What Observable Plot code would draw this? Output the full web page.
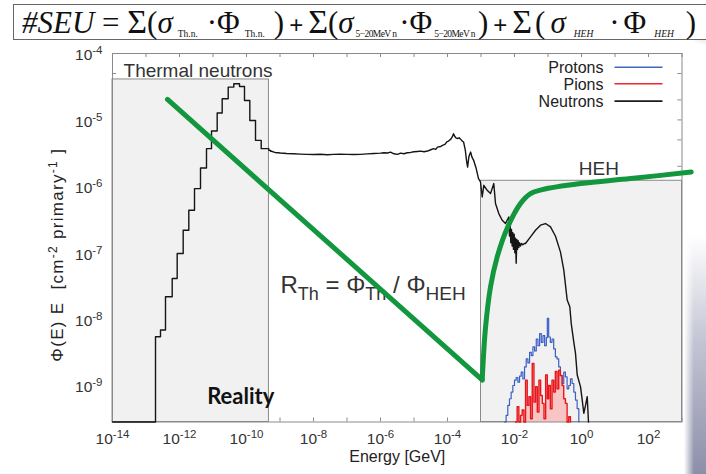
<!DOCTYPE html>
<html><head><meta charset="utf-8">
<script src="https://cdn.jsdelivr.net/npm/d3@7"></script>
<script src="https://cdn.jsdelivr.net/npm/@observablehq/plot@0.6"></script>
<style>
body{margin:0;background:#fff;width:706px;height:474px;overflow:hidden;position:relative;font-family:"Liberation Sans",Arial,sans-serif}
#chart{position:absolute;left:0;top:0}
#formula{position:absolute;left:13px;top:4px;width:700px;height:36px;border:1.5px solid #666;background:#fff;
 font-family:"Liberation Serif","Times New Roman",serif;font-size:31px;line-height:33px;white-space:nowrap;padding-left:8px;box-sizing:border-box;color:#111}
#formula sub{font-size:9.5px;vertical-align:-4px;line-height:0;margin:0 9px 0 5px}
#formula sub.mev{letter-spacing:-0.6px;margin:0 3px 0 2px}
#formula sub.heh{margin:0 12px 0 8px}
#formula .dot3{margin:0 4px}
#formula .s3{margin-left:5px}
#formula .p3{margin-left:3px}
#formula .big{font-size:34px}
#formula .plus{font-family:"Liberation Sans",Arial,sans-serif;font-size:24px;margin:0 5px}
#edge{position:absolute;left:684px;top:235px;width:22px;height:239px;
 background:linear-gradient(to right,#fff 0%,rgba(255,255,255,0) 45%),linear-gradient(to bottom,#fff 0%,#c3c4d3 45%,#8d8fa9 100%)}
#logo{position:absolute;left:694px;top:0;width:12px;height:50px;background:radial-gradient(circle at 100% 50%,#e9b9b9 0%,#f3dede 45%,rgba(255,255,255,0) 75%)}
</style></head><body>
<div id="chart"></div>
<div id="logo"></div>
<div id="formula"><i>#SEU</i> = <span class="big">Σ</span>(<i>σ</i><sub>Th.n.</sub>·Φ<sub>Th.n.</sub>)<span class="plus">+</span><span class="big">Σ</span>(<i>σ</i><sub class="mev">5−20MeV n</sub>·Φ<sub class="mev">5−20MeV n</sub>)<span class="plus">+</span><span class="big">Σ</span><span class="p3">(</span><i class="s3">σ</i><sub class="heh"><i>HEH</i></sub><span class="dot3">·</span>Φ<sub class="heh"><i>HEH</i></sub>)</div>
<div id="edge"></div>
<script>
// ---------- data (log10 values) ----------
const xTickExp = [-14, -12, -10, -8, -6, -4, -2, 0, 2];
const yTickExp = [-9, -8, -7, -6, -5, -4];

// thermal neutron histogram (step), log10 E [GeV] and log10 flux
const thermalLogE = [-14.0, -12.716, -12.567, -12.418, -12.218, -12.069, -11.890, -11.722, -11.552, -11.373, -11.194, -11.045, -10.875, -10.726, -10.546, -10.379, -10.209, -10.060, -9.901, -9.731, -9.561, -9.334, -9.284];
const thermalLogF = [-9.55, -8.266, -8.165, -7.664, -7.388, -7.012, -6.662, -6.361, -6.035, -5.724, -5.433, -5.168, -4.897, -4.682, -4.506, -4.456, -4.496, -4.707, -5.008, -5.308, -5.433, -5.459, -5.469];

// neutrons above the thermal peak
const neutronLogE = [-9.284, -9.15, -8.985, -8.8, -8.597, -8.4, -8.2, -8.0, -7.8, -7.582, -7.4, -7.2, -7.0, -6.8, -6.597, -6.4, -6.2, -6.0, -5.9, -5.791, -5.7, -5.6, -5.493, -5.4, -5.3, -5.2, -5.104, -5.0, -4.9, -4.8, -4.7, -4.597, -4.5, -4.418, -4.35, -4.3, -4.2, -4.149, -4.08, -4.02, -3.97, -3.9, -3.85, -3.821, -3.78, -3.75, -3.70, -3.65, -3.61, -3.56, -3.52, -3.47, -3.43, -3.40, -3.36, -3.31, -3.27, -3.22, -3.15, -3.075, -3.015, -2.964, -2.916, -2.815, -2.716, -2.618, -2.567, -2.469, -2.367, -2.269, -2.170, -2.15, -2.13, -2.11, -2.09, -2.07, -2.05, -2.03, -2.01, -1.99, -1.97, -1.95, -1.93, -1.91, -1.89, -1.87, -1.85, -1.82, -1.79, -1.75, -1.70, -1.672, -1.522, -1.373, -1.224, -1.075, -0.925, -0.776, -0.627, -0.528, -0.427, -0.349, -0.307, -0.230, -0.179, -0.128, -0.030, 0.021, 0.069, 0.120, 0.170, 0.209];
const neutronLogF = [-5.469, -5.49, -5.499, -5.505, -5.509, -5.515, -5.52, -5.522, -5.518, -5.524, -5.52, -5.515, -5.52, -5.522, -5.519, -5.512, -5.505, -5.50, -5.495, -5.499, -5.485, -5.51, -5.52, -5.50, -5.51, -5.495, -5.49, -5.48, -5.475, -5.47, -5.48, -5.469, -5.45, -5.433, -5.445, -5.41, -5.40, -5.383, -5.37, -5.33, -5.319, -5.29, -5.25, -5.208, -5.25, -5.27, -5.28, -5.27, -5.29, -5.32, -5.333, -5.45, -5.62, -5.71, -5.55, -5.484, -5.56, -5.609, -5.72, -5.885, -5.935, -6.161, -5.985, -6.060, -6.110, -5.959, -6.260, -6.411, -6.511, -6.561, -6.462, -6.75, -6.55, -6.85, -6.65, -6.90, -6.70, -6.95, -6.72, -7.00, -6.78, -7.16, -6.80, -6.95, -6.82, -6.92, -6.85, -6.90, -6.86, -6.88, -6.86, -6.862, -6.762, -6.662, -6.586, -6.561, -6.612, -6.752, -6.992, -7.263, -7.714, -7.815, -8.065, -8.346, -8.516, -8.842, -9.018, -9.218, -9.418, -9.30, -9.168, -9.55];

// protons (step)
const protonLogE = [-2.30, -2.25, -2.20, -2.15, -2.10, -2.05, -2.00, -1.95, -1.90, -1.85, -1.80, -1.75, -1.70, -1.65, -1.60, -1.55, -1.50, -1.45, -1.40, -1.35, -1.30, -1.25, -1.20, -1.15, -1.10, -1.05, -1.02, -0.98, -0.93, -0.88, -0.83, -0.78, -0.73, -0.68, -0.63, -0.58, -0.53, -0.48, -0.43, -0.38, -0.33, -0.28, -0.23, -0.18, -0.13, -0.08];
const protonLogF = [-9.55, -9.45, -9.30, -9.20, -9.10, -9.00, -8.92, -8.88, -8.95, -8.86, -8.80, -8.90, -8.72, -8.60, -8.66, -8.50, -8.55, -8.42, -8.48, -8.30, -8.40, -8.22, -8.35, -8.25, -8.40, -8.28, -7.99, -8.27, -8.35, -8.30, -8.45, -8.57, -8.60, -8.72, -8.85, -8.97, -8.80, -8.87, -9.05, -9.00, -8.90, -8.97, -9.10, -9.22, -9.35, -9.55];

// pions (step)
const pionLogE = [-1.97, -1.92, -1.87, -1.82, -1.77, -1.72, -1.67, -1.62, -1.57, -1.52, -1.47, -1.42, -1.37, -1.32, -1.27, -1.22, -1.17, -1.12, -1.07, -1.02, -0.98, -0.93, -0.88, -0.83, -0.78, -0.73, -0.68, -0.63, -0.58, -0.53, -0.48, -0.43, -0.38, -0.33];
const pionLogF = [-9.55, -9.32, -9.55, -9.45, -9.37, -9.55, -8.92, -9.30, -9.17, -9.50, -8.67, -9.25, -9.02, -9.40, -8.92, -9.15, -9.27, -9.50, -8.84, -9.20, -9.00, -9.35, -8.92, -9.10, -8.79, -9.05, -8.77, -8.85, -9.00, -9.20, -9.27, -9.55, -9.47, -9.55];

// green sketch line: straight 1/E part and HEH curve
const sketchLineLogE = [-12.358, -2.964];
const sketchLineLogF = [-4.692, -8.917];
const sketchCurveLogE = [-2.964, -2.866, -2.716, -2.516, -2.218, -1.821, -1.522, -1.173, -0.030, 1.463, 3.275];
const sketchCurveLogF = [-8.917, -8.135, -7.514, -7.063, -6.632, -6.260, -6.110, -6.050, -5.959, -5.884, -5.785];

// shaded regions
const regionLogE0 = [-14, -3.0];
const regionLogE1 = [-9.33, 3];
const regionLogTop = [-4.391, -5.917];

// legend
const legendNames = ["Protons", "Pions", "Neutrons"];
const legendColors = ["#4466c0", "#ee2a2a", "#1a1a1a"];
const legendLogF = [-4.206, -4.456, -4.717];

const yMinExp = -9.55;

// ---------- build ----------
const p = v => 10 ** v;
const pairs = (E, F) => E.map((e, i) => ({E: p(e), F: p(F[i])}));
const thermal = pairs(thermalLogE, thermalLogF);
const neutrons = pairs(neutronLogE, neutronLogF);
const protons = pairs(protonLogE, protonLogF);
const pions = pairs(pionLogE, pionLogF);
const sketchLine = pairs(sketchLineLogE, sketchLineLogF);
const sketchCurve = pairs(sketchCurveLogE, sketchCurveLogF);
const yMin = p(yMinExp);
const regions = regionLogE0.map((e, i) => ({x1: p(e), x2: p(regionLogE1[i]), y1: yMin, y2: p(regionLogTop[i])}));
const legend = legendNames.map((n, i) => ({name: n, color: legendColors[i], yl: p(legendLogF[i])}));

const W = 706, H = 474, ML = 112, MR = 24.5, MT = 53, MB = 52.5;
const innerW = W - ML - MR, innerH = H - MT - MB;
const decades = d3.range(-14, 4).map(p);
const yMinor = [];
for (let e = -10; e <= -5; e++) for (const m of [1, 2, 5]) { const v = m * 10 ** e; if (v > yMin && v < 1e-4) yMinor.push(v); }
const tickStroke = "#8a8a8a";
const fmt = d => "10^" + Math.round(Math.log10(d));

const chart = Plot.plot({
  width: W, height: H,
  marginLeft: ML, marginRight: MR, marginTop: MT, marginBottom: MB,
  x: {type: "log", domain: [1e-14, 1e3]},
  y: {type: "log", domain: [yMin, 1e-4]},
  style: {fontFamily: "Liberation Sans, Arial, sans-serif", fontSize: "15.5px", color: "#333", background: "transparent", overflow: "visible"},
  marks: [
    // inward ticks
    Plot.ruleX(decades, {x: d => d, insetTop: innerH - 4, stroke: tickStroke}),
    Plot.ruleX(decades, {x: d => d, insetBottom: innerH - 4, stroke: tickStroke}),
    Plot.ruleY(yMinor, {y: d => d, insetRight: innerW - 4, stroke: tickStroke}),
    Plot.ruleY(yMinor, {y: d => d, insetLeft: innerW - 4, stroke: tickStroke}),
    // shaded regions
    Plot.rect(regions, {x1: "x1", x2: "x2", y1: "y1", y2: "y2", fill: "#f1f1f1", stroke: "#8a8a8a", strokeWidth: 1}),
    Plot.frame({stroke: "#8a8a8a", strokeWidth: 1}),
    Plot.axisX({ticks: xTickExp.map(p), tickSize: 0, tickPadding: 11, tickFormat: fmt, label: null, fill: "#333"}),
    Plot.axisY({ticks: yTickExp.map(p), tickSize: 0, tickPadding: 10, tickFormat: fmt, label: null, dy: 2, fill: "#333"}),
    // spectra
    Plot.line(protons, {x: "E", y: "F", curve: "step-after", stroke: "#3c5fc4", strokeWidth: 1.2}),
    Plot.areaY(pions, {x: "E", y1: yMin, y2: "F", curve: "step-after", fill: "#f9c4c4"}),
    Plot.line(pions, {x: "E", y: "F", curve: "step-after", stroke: "#e8161c", strokeWidth: 1.4}),
    Plot.line(thermal, {x: "E", y: "F", curve: "step-after", stroke: "#151515", strokeWidth: 1.4}),
    Plot.line(neutrons, {x: "E", y: "F", stroke: "#151515", strokeWidth: 1.4}),
    // legend
    Plot.link(legend, {x1: p(0.985), x2: p(2.418), y1: "yl", y2: "yl", stroke: "color", strokeWidth: 1.6}),
    Plot.text(legend, {x: p(0.657), y: "yl", text: "name", textAnchor: "end", lineAnchor: "middle", dy: 1, fontSize: 16, fill: "#222"}),
    // annotations
    Plot.text(["Thermal neutrons"], {x: p(-13.67), y: p(-4.356), textAnchor: "start", lineAnchor: "bottom", fontSize: 19, fill: "#333"}),
    Plot.text(["HEH"], {x: p(-0.081), y: p(-5.835), textAnchor: "start", lineAnchor: "bottom", fontSize: 19, fill: "#333"}),
    Plot.text(["__RTH__"], {x: p(-8.985), y: p(-7.614), textAnchor: "start", lineAnchor: "bottom", fontSize: 24, fill: "#333"}),
    Plot.text(["Reality"], {x: p(-11.173), y: p(-9.278), textAnchor: "start", lineAnchor: "bottom", fontSize: 22, fontWeight: "bold", fontFamily: "Lato, Open Sans, sans-serif", fill: "#111"}),
    Plot.text(["Energy [GeV]"], {frameAnchor: "bottom", dy: 40, lineAnchor: "bottom", fontSize: 16, fill: "#222"}),
    Plot.text(["__YLABEL__"], {frameAnchor: "left", dx: -55, dy: 17, rotate: -90, textAnchor: "middle", lineAnchor: "middle", fontSize: 17, fill: "#222"}),
    // green sketch
    Plot.line(sketchLine, {x: "E", y: "F", stroke: "#12963e", strokeWidth: 5}),
    Plot.line(sketchCurve, {x: "E", y: "F", stroke: "#12963e", strokeWidth: 5, curve: "catmull-rom"})
  ]
});
document.getElementById("chart").appendChild(chart);

// ---------- rich text (superscripts / subscripts) ----------
const NS = "http://www.w3.org/2000/svg";
function rich(el, parts, spacing) {
  el.textContent = "";
  el.style.whiteSpace = "pre";
  if (spacing) el.style.letterSpacing = spacing;
  for (const [txt, attrs] of parts) {
    const t = document.createElementNS(NS, "tspan");
    t.textContent = txt;
    if (attrs) for (const k in attrs) t.setAttribute(k, attrs[k]);
    el.appendChild(t);
  }
}
chart.querySelectorAll("text").forEach(el => {
  const s = el.textContent;
  const m = /^10\^(-?\d+)$/.exec(s.replace("−", "-"));
  if (m) {
    rich(el, [["10"], [m[1], {dy: "-6", "font-size": "11.5"}]]);
  } else if (s === "__RTH__") {
    rich(el, [["R"], ["Th", {dy: "7", "font-size": "18"}], [" = Φ", {dy: "-7"}], ["Th", {dy: "7", "font-size": "18"}], [" / Φ", {dy: "-7"}], ["HEH", {dy: "7", "font-size": "19"}]]);
  } else if (s === "__YLABEL__") {
    rich(el, [["Φ(E) E  [cm"], ["-2", {dy: "-6", "font-size": "12"}], [" primary", {dy: "6"}], ["-1", {dy: "-6", "font-size": "12"}], [" ]", {dy: "6"}]], "1.3px");
  }
});
</script></body></html>
